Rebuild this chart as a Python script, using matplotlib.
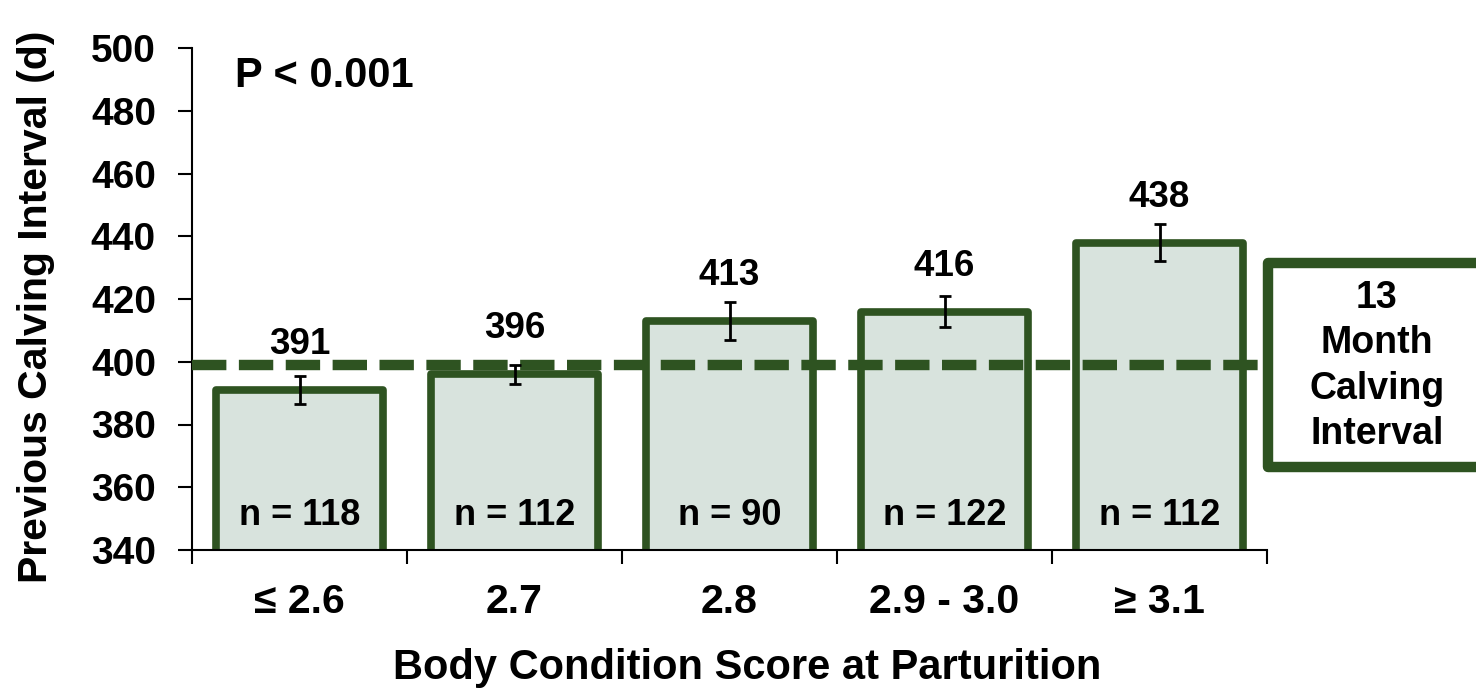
import matplotlib
matplotlib.use("Agg")
import matplotlib.pyplot as plt
from matplotlib.patches import Rectangle

categories = ["≤ 2.6", "2.7", "2.8", "2.9 - 3.0", "≥ 3.1"]
values = [391, 396, 413, 416, 438]
errors = [4.5, 3, 6, 5, 6]
n_labels = ["n = 118", "n = 112", "n = 90", "n = 122", "n = 112"]
ref_line = 399
y_ticks = [340, 360, 380, 400, 420, 440, 460, 480, 500]

green = "#2e5321"
fill = "#d8e3dd"

plt.rcParams['font.family'] = ['Liberation Sans', 'DejaVu Sans']
plt.rcParams['font.weight'] = 'bold'

W, H = 1476, 692
fig = plt.figure(figsize=(14.76, 6.92), dpi=100)
ax = fig.add_axes([192/W, 1-550/H, 1075/W, 502/H])

x = list(range(len(categories)))
bars = ax.bar(x, values, width=0.775, bottom=0, color=fill, edgecolor=green, linewidth=5.5, zorder=2)
for b in bars:
    b.set_joinstyle('round')
ax.errorbar(x, values, yerr=errors, fmt='none', ecolor='black', elinewidth=2, capsize=4, capthick=2, zorder=4)
ax.axhline(ref_line, xmin=0, xmax=1, color=green, linewidth=7.5, dashes=(3.3, 1.2), zorder=3, clip_on=False)

for xi, v, nl in zip(x, values, n_labels):
    ax.text(xi, v + 14.5, str(v), ha='center', va='center', fontsize=26.5, fontweight='bold')
    ax.text(xi, 351, nl, ha='center', va='center', fontsize=26, fontweight='bold')

ax.set_ylim(340, 500)
ax.set_xlim(-0.5, len(categories) - 0.5)
ax.set_yticks(y_ticks)
ax.set_yticklabels([str(t) for t in y_ticks], fontsize=28, fontweight='bold')
ax.set_xticks(x)
ax.set_xticklabels(categories, fontsize=29.5, fontweight='bold')
ax.set_xticks([i - 0.5 for i in range(len(categories) + 1)], minor=True)
ax.tick_params(axis='x', which='major', length=0, pad=24)
ax.tick_params(axis='x', which='minor', length=10, width=1.5, direction='out')
ax.tick_params(axis='y', which='major', length=10, width=1.5, direction='out', pad=16)
for s in ['top', 'right']:
    ax.spines[s].set_visible(False)
for s in ['left', 'bottom']:
    ax.spines[s].set_linewidth(1.5)
ax.spines['bottom'].set_zorder(5)

fig.text(36/W, 1-307/H, "Previous Calving Interval (d)", rotation=90, ha='center', va='center',
         fontsize=29.5, fontweight='bold')
fig.text(747/W, 1-668/H, "Body Condition Score at Parturition", ha='center', va='center',
         fontsize=30, fontweight='bold')

ax.text(0.04, 0.945, "P < 0.001", transform=ax.transAxes, ha='left', va='center', fontsize=30, fontweight='bold')

# legend box
rect = Rectangle((1268/W, 1-467/H), 240/W, 204/H, transform=fig.transFigure,
                 facecolor='white', edgecolor=green, linewidth=7.5, clip_on=False, zorder=6,
                 joinstyle='round')
fig.patches.append(rect)
fig.text(1377/W, 1-366/H, "13\nMonth\nCalving\nInterval", ha='center', va='center',
         fontsize=27, fontweight='bold', linespacing=1.33, zorder=7)

fig.savefig("out.png", dpi=100)
